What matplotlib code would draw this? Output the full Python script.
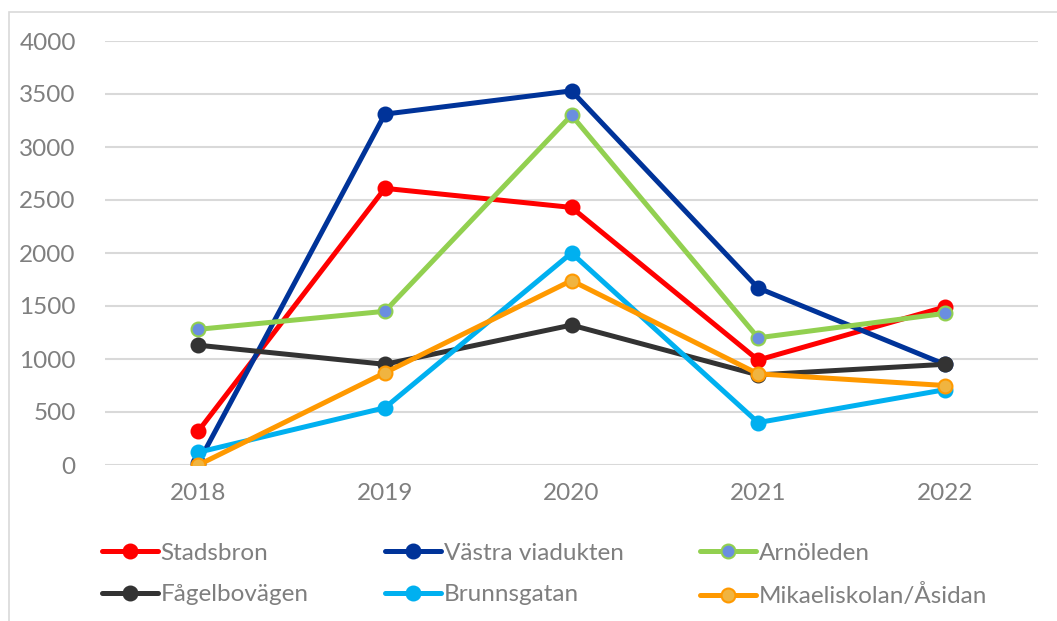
import numpy as np
import matplotlib
matplotlib.use('Agg')
import matplotlib.pyplot as plt
from matplotlib.patches import Rectangle

plt.rcParams['font.family'] = ['Lato', 'DejaVu Sans']

years = ['2018', '2019', '2020', '2021', '2022']
stadsbron = [320, 2610, 2430, 990, 1490]
vastra_viadukten = [20, 3310, 3530, 1670, 950]
arnoleden = [1280, 1450, 3300, 1200, 1430]
fagelbovagen = [1130, 950, 1320, 850, 950]
brunnsgatan = [120, 540, 2000, 400, 710]
mikaeliskolan = [0, 870, 1740, 860, 750]

series = [
	('Stadsbron', stadsbron, '#ff0000', '#ff0000'),
	('Västra viadukten', vastra_viadukten, '#003399', '#003399'),
	('Arnöleden', arnoleden, '#92d050', '#6a8ee0'),
	('Fågelbovägen', fagelbovagen, '#333333', '#333333'),
	('Brunnsgatan', brunnsgatan, '#00b0f0', '#00b0f0'),
	('Mikaeliskolan/Åsidan', mikaeliskolan, '#ff9900', '#f0b440'),
]

fig = plt.figure(figsize=(10.57, 6.21), dpi=100)
ax = fig.add_axes([105/1057, 156/621, 933/1057, 424/621])

x = np.arange(len(years))
for name, vals, col, face in series:
	ax.plot(x, vals, color=col, lw=3.6, marker='o', ms=10,
			markerfacecolor=face, markeredgecolor=col, markeredgewidth=1.5,
			label=name, solid_capstyle='round')

ax.set_xlim(-0.5, len(years) - 0.5)
ax.set_ylim(0, 4000)
ax.set_yticks(np.arange(0, 4001, 500))
ax.set_xticks(x)
ax.set_xticklabels(years)
ax.yaxis.grid(True, color='#d9d9d9', lw=1.5)
ax.set_axisbelow(True)
for s in ax.spines.values():
	s.set_visible(False)
ax.tick_params(axis='both', length=0, labelsize=17.5, colors='#7f7f7f')
ax.tick_params(axis='y', pad=21)
ax.tick_params(axis='x', pad=13)

fig.patches.append(Rectangle((9/1057, -0.1), 1.2, (621-12)/621 + 0.1,
							 transform=fig.transFigure, fill=False,
							 edgecolor='#d9d9d9', lw=1.2))

# legend filled row by row like the original
handles, labels = ax.get_legend_handles_labels()
order = [0, 3, 1, 4, 2, 5]
leg = fig.legend([handles[i] for i in order], [labels[i] for i in order],
				 loc='upper left', bbox_to_anchor=(92/1057, 1 - 533/621), ncol=3,
				 frameon=False, fontsize=17.5, handlelength=2.3, handletextpad=0.12,
				 columnspacing=3.15, labelspacing=0.85, borderaxespad=0)
for t in leg.get_texts():
	t.set_color('#7f7f7f')

fig.savefig('out.png', dpi=100)
